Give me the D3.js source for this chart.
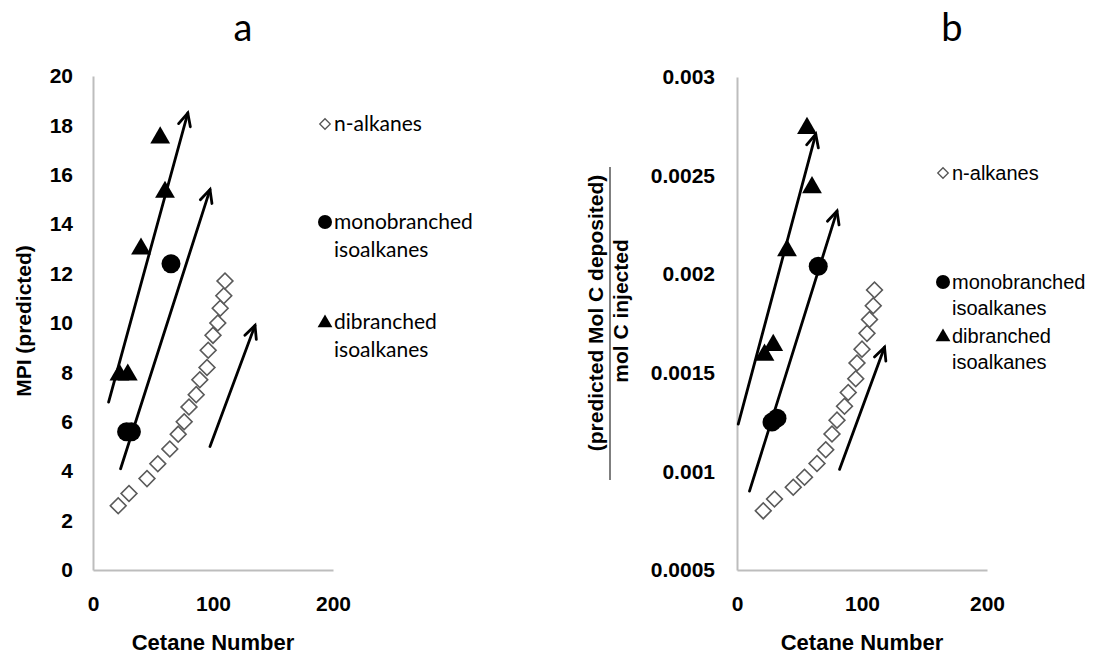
<!DOCTYPE html>
<html>
<head>
<meta charset="utf-8">
<script src="https://cdn.jsdelivr.net/npm/d3@7"></script>
<style>
  body { margin: 0; background: #fff; }
  svg { display: block; }
</style>
</head>
<body>
<svg id="chart"></svg>
<script>
// n-alkanes (same compounds in both panels)
const nCetane = [21, 30, 45, 54, 64, 71, 76, 80, 86, 89, 95, 96, 100, 104, 106, 109, 110];
const nMPI = [2.6, 3.1, 3.7, 4.3, 4.9, 5.5, 6.0, 6.6, 7.1, 7.7, 8.2, 8.9, 9.5, 10.0, 10.6, 11.1, 11.7];
const nDeposit = [0.00080, 0.00086, 0.00092, 0.00097, 0.00104, 0.00111, 0.00119, 0.00126, 0.00133,
                  0.00140, 0.00147, 0.00155, 0.00162, 0.00170, 0.00177, 0.00184, 0.00192];

// monobranched isoalkanes
const monoCetane = [28, 32, 65];
const monoMPI = [5.6, 5.6, 12.4];
const monoDeposit = [0.00125, 0.00127, 0.00204];

// dibranched isoalkanes
const diCetane = [22, 29, 40, 60, 56];
const diMPI = [7.9, 7.9, 13.0, 15.3, 17.5];
const diDeposit = [0.00159, 0.00164, 0.00212, 0.00244, 0.00274];

// trend arrows [x0, y0, x1, y1] in data units
const arrowsMPI = [[13, 6.8, 79, 18.5], [23, 4.1, 97.5, 15.4], [97.5, 5.0, 135, 9.9]];
const arrowsDeposit = [[1, 0.00124, 63, 0.00271], [10, 0.0009, 80, 0.00232], [82, 0.00101, 118, 0.00163]];

const xTicks = [0, 100, 200];
const mpiTicks = [0, 2, 4, 6, 8, 10, 12, 14, 16, 18, 20];
const depositTicks = [0.0005, 0.001, 0.0015, 0.002, 0.0025, 0.003];
const legendLabels = [["n-alkanes"], ["monobranched", "isoalkanes"], ["dibranched", "isoalkanes"]];

const width = 1110, height = 654;
const svg = d3.select("#chart").attr("width", width).attr("height", height);

const boldFont = "'Liberation Sans', Arial, sans-serif";

function drawPanel(p) {
  const x = d3.scaleLinear().domain([0, 200]).range([p.left, p.right]);
  const y = d3.scaleLinear().domain(p.yDomain).range([570, p.top]);
  const g = svg.append("g");

  // axes (no tick marks, grey lines)
  const yAxis = d3.axisLeft(y).tickValues(p.yTicks).tickSize(0).tickPadding(p.yPad).tickFormat(p.fmt);
  const xAxis = d3.axisBottom(x).tickValues(xTicks).tickSize(0).tickPadding(26).tickFormat(d3.format("d"));

  g.append("g").attr("transform", `translate(${p.left},0)`).call(yAxis)
    .call(a => a.select(".domain").attr("stroke", "#bdbdbd").attr("stroke-width", 2))
    .selectAll("text").attr("font-family", boldFont).attr("font-weight", "bold")
    .attr("font-size", "21px").attr("fill", "#000");

  g.append("g").attr("transform", `translate(0,570)`).call(xAxis)
    .call(a => a.select(".domain").attr("stroke", "#bdbdbd").attr("stroke-width", 2))
    .selectAll("text").attr("font-family", boldFont).attr("font-weight", "bold")
    .attr("font-size", "21px").attr("fill", "#000");

  g.append("text")
    .attr("x", (p.left + p.right) / 2).attr("y", 650)
    .attr("text-anchor", "middle")
    .attr("font-family", boldFont).attr("font-weight", "bold").attr("font-size", "22px")
    .text("Cetane Number");

  // panel letter
  g.append("text")
    .attr("x", p.letterX).attr("y", 41)
    .attr("text-anchor", "middle")
    .attr("font-family", "Lato, 'Open Sans', sans-serif").attr("font-size", "38px")
    .text(p.letter);

  // arrows
  const arrows = g.append("g").attr("stroke", "#000").attr("stroke-width", 2.8)
    .attr("fill", "none").attr("stroke-linecap", "round");
  p.arrows.forEach(a => {
    const x0 = x(a[0]), y0 = y(a[1]), x1 = x(a[2]), y1 = y(a[3]);
    const ang = Math.atan2(y1 - y0, x1 - x0);
    const h = 14, spread = 0.45;
    arrows.append("line").attr("x1", x0).attr("y1", y0).attr("x2", x1).attr("y2", y1);
    arrows.append("path").attr("d",
      `M${x1 - h * Math.cos(ang - spread)},${y1 - h * Math.sin(ang - spread)}` +
      `L${x1},${y1}` +
      `L${x1 - h * Math.cos(ang + spread)},${y1 - h * Math.sin(ang + spread)}`);
  });

  // n-alkanes: open diamonds
  g.append("g").selectAll("path")
    .data(d3.zip(nCetane, p.nVals))
    .join("path")
    .attr("transform", d => `translate(${x(d[0])},${y(d[1])}) rotate(45)`)
    .attr("d", d3.symbol(d3.symbolSquare, 125)())
    .attr("fill", "#fff").attr("stroke", "#5a5a5a").attr("stroke-width", 1.6);

  // monobranched: filled circles
  g.append("g").selectAll("circle")
    .data(d3.zip(monoCetane, p.monoVals))
    .join("circle")
    .attr("cx", d => x(d[0])).attr("cy", d => y(d[1]))
    .attr("r", 9.5).attr("fill", "#000");

  // dibranched: filled triangles
  g.append("g").selectAll("path")
    .data(d3.zip(diCetane, p.diVals))
    .join("path")
    .attr("transform", d => `translate(${x(d[0])},${y(d[1])})`)
    .attr("d", d3.symbol(d3.symbolTriangle, 170)())
    .attr("fill", "#000");

  // legend
  const leg = g.append("g").attr("font-family", p.legendFont).attr("font-size", p.legendSize + "px");
  legendLabels.forEach((lines, i) => {
    const ly = p.legendY[i];
    if (i === 0) {
      leg.append("path").attr("d", d3.symbol(d3.symbolSquare, 55)())
        .attr("transform", `translate(${p.legendX},${ly}) rotate(45)`)
        .attr("fill", "#fff").attr("stroke", "#555").attr("stroke-width", 1.3);
    } else if (i === 1) {
      leg.append("circle").attr("cx", p.legendX).attr("cy", ly).attr("r", 7).attr("fill", "#000");
    } else {
      leg.append("path").attr("d", d3.symbol(d3.symbolTriangle, 95)())
        .attr("transform", `translate(${p.legendX},${ly + 1})`).attr("fill", "#000");
    }
    lines.forEach((t, j) => {
      leg.append("text")
        .attr("x", p.legendX + 9).attr("y", ly + j * p.legendGap)
        .attr("dy", "0.35em")
        .text(t);
    });
  });
}

drawPanel({
  left: 93, right: 333, top: 76,
  yDomain: [0, 20], yTicks: mpiTicks, yPad: 20, fmt: d3.format("d"),
  letter: "a", letterX: 243,
  arrows: arrowsMPI, nVals: nMPI, monoVals: monoMPI, diVals: diMPI,
  legendX: 325, legendY: [124, 222, 322], legendGap: 28,
  legendFont: "Lato, 'Open Sans', sans-serif", legendSize: 21
});

drawPanel({
  left: 737, right: 987, top: 77,
  yDomain: [0.0005, 0.003], yTicks: depositTicks, yPad: 22, fmt: d => String(+d.toFixed(4)),
  letter: "b", letterX: 952,
  arrows: arrowsDeposit, nVals: nDeposit, monoVals: monoDeposit, diVals: diDeposit,
  legendX: 943, legendY: [173, 282, 336], legendGap: 26,
  legendFont: "'Liberation Sans', Arial, sans-serif", legendSize: 20
});

// y-axis titles
svg.append("text")
  .attr("transform", "translate(31,321) rotate(-90)")
  .attr("text-anchor", "middle")
  .attr("font-family", boldFont).attr("font-weight", "bold").attr("font-size", "21px")
  .text("MPI (predicted)");

const frac = svg.append("g")
  .attr("font-family", boldFont).attr("font-weight", "bold").attr("font-size", "21px");
frac.append("text")
  .attr("transform", "translate(603,313) rotate(-90)")
  .attr("text-anchor", "middle")
  .text("(predicted Mol C deposited)");
frac.append("line")
  .attr("x1", 610).attr("x2", 610).attr("y1", 167).attr("y2", 480)
  .attr("stroke", "#555").attr("stroke-width", 1.5);
frac.append("text")
  .attr("transform", "translate(628,311) rotate(-90)")
  .attr("text-anchor", "middle")
  .text("mol C injected");
</script>
</body>
</html>
